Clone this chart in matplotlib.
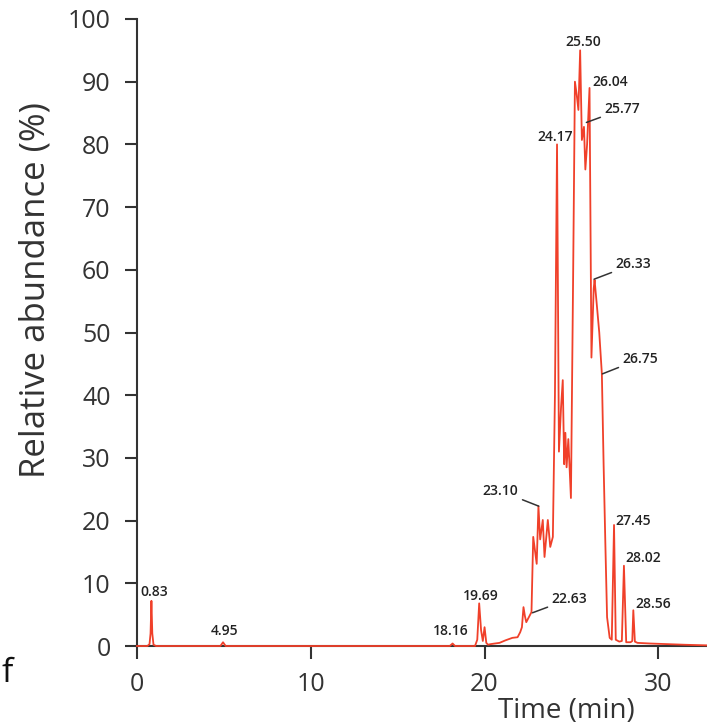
import numpy as np
import matplotlib.pyplot as plt

plt.rcParams['font.family'] = ['Open Sans', 'DejaVu Sans']

# chromatogram trace (time in min, relative abundance in %)
time_min = [0.0, 0.6, 0.72, 0.78, 0.83, 0.88, 0.95, 1.1,
            4.8, 4.95, 5.1,
            18.0, 18.16, 18.3,
            19.45, 19.58, 19.69, 19.8, 19.9, 20.0, 20.1, 20.2, 20.35, 20.6,
            20.86, 21.2, 21.6, 21.9, 22.05, 22.15, 22.24, 22.32, 22.4, 22.55,
            22.7, 22.8, 23.0, 23.1, 23.2, 23.35, 23.45, 23.64, 23.78, 23.93,
            24.05, 24.17, 24.28, 24.4, 24.5, 24.58, 24.65, 24.72, 24.82, 24.97,
            25.1, 25.2, 25.3, 25.4, 25.5, 25.6, 25.72, 25.8, 25.9, 26.04,
            26.15, 26.28, 26.33, 26.45, 26.6, 26.75, 26.85, 26.95, 27.05, 27.2,
            27.32, 27.45, 27.55, 27.75, 27.9, 28.02, 28.15, 28.4, 28.5, 28.56,
            28.65, 28.8, 29.5, 30.5, 31.5, 32.8]
abundance = [0.0, 0.0, 0.3, 2.0, 7.2, 2.0, 0.2, 0.0,
             0.0, 0.6, 0.0,
             0.0, 0.4, 0.0,
             0.0, 1.0, 6.8, 2.5, 0.8, 3.0, 0.5, 0.2, 0.3, 0.4,
             0.5, 0.9, 1.3, 1.4, 2.2, 3.0, 6.2, 4.8, 3.8, 4.6,
             5.4, 17.4, 13.1, 22.3, 17.0, 20.1, 14.2, 20.1, 15.8, 17.4,
             40.0, 80.0, 31.0, 38.0, 42.4, 29.0, 34.0, 28.5, 33.0, 23.6,
             60.0, 90.0, 88.0, 85.5, 95.0, 80.7, 82.8, 76.0, 80.0, 89.0,
             46.0, 57.0, 58.4, 54.7, 50.0, 43.4, 29.0, 16.4, 4.6, 1.3,
             1.0, 19.3, 1.0, 0.7, 0.8, 12.8, 0.6, 0.6, 0.8, 5.7,
             0.7, 0.5, 0.4, 0.3, 0.2, 0.1]

# peak labels: text, label position, point for a leader line (None = no line)
peak_labels = ['0.83', '4.95', '18.16', '19.69', '22.63', '23.10', '24.17',
               '25.50', '26.04', '25.77', '26.33', '26.75', '27.45', '28.02', '28.56']
label_x = [0.97, 5.06, 18.05, 19.77, 24.89, 20.92, 24.08,
           25.69, 27.24, 27.93, 28.57, 28.97, 28.57, 29.14, 29.71]
label_y = [8.6, 2.4, 2.4, 8.0, 7.5, 24.7, 81.2,
           96.3, 90.0, 85.6, 60.9, 45.8, 20.0, 14.0, 6.7]
leader_to = [None, None, None, None, (22.76, 5.3), (23.12, 22.3), None,
             None, None, (25.86, 83.5), (26.3, 58.5), (26.78, 43.4), None, None, None]

fig = plt.figure(figsize=(7.07, 7.26), dpi=100)
ax = fig.add_axes([137 / 707, 80 / 726, 570 / 707, 627 / 726])

ax.plot(time_min, abundance, color='#f0402a', lw=1.3, clip_on=False, zorder=3)

for txt, lx, ly, tgt in zip(peak_labels, label_x, label_y, leader_to):
    if tgt is None:
        ax.text(lx, ly, txt, ha='center', va='center', fontsize=10,
                fontweight='semibold', color='#222222')
    else:
        ax.annotate(txt, xy=tgt, xytext=(lx, ly), ha='center', va='center',
                    fontsize=10, fontweight='semibold', color='#222222',
                    arrowprops=dict(arrowstyle='-', color='#333333', lw=1.1,
                                    shrinkA=1, shrinkB=0))

ax.set_xlim(0, 32.8)
ax.set_ylim(0, 100)
ax.set_xticks([0, 10, 20, 30])
ax.set_yticks(np.arange(0, 101, 10))
for s in ['top', 'right']:
    ax.spines[s].set_visible(False)
for s in ['left', 'bottom']:
    ax.spines[s].set_color('#333333')
    ax.spines[s].set_linewidth(1.5)
ax.tick_params(direction='out', length=9, width=1.5, color='#333333',
               labelsize=18, labelcolor='#333333', pad=10)

ax.set_ylabel('Relative abundance (%)', fontsize=25, color='#333333')
ax.yaxis.set_label_coords(-0.148, 0.568)
ax.set_xlabel('Time (min)', fontsize=20, color='#333333')
ax.xaxis.set_label_coords(0.753, -0.082)

# leftover letter at the left edge of the original figure
fig.text(2 / 707, 1 - 682 / 726, 'f', ha='left', va='baseline', fontsize=24, color='#111111')

fig.savefig('out.png', dpi=100)
